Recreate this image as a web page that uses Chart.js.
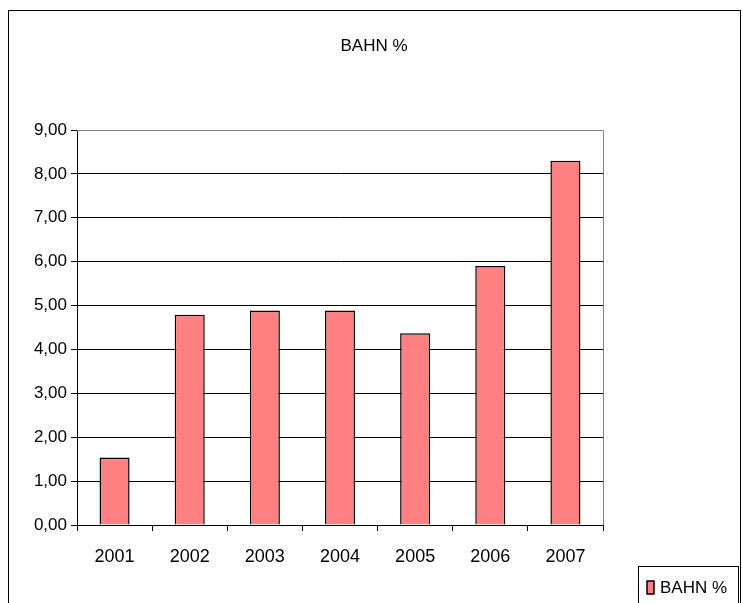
<!DOCTYPE html>
<html>
<head>
<meta charset="utf-8">
<script src="https://cdn.jsdelivr.net/npm/chart.js@4/dist/chart.umd.min.js"></script>
<style>
  html, body { margin: 0; padding: 0; background: #fff; }
  #wrap { position: relative; width: 743px; height: 603px; }
</style>
</head>
<body>
<div id="wrap"><canvas id="bahnChart"></canvas></div>
<script>
// --- datos ---
const years = ['2001', '2002', '2003', '2004', '2005', '2006', '2007'];
const bahnValues = [1.54, 4.79, 4.89, 4.89, 4.37, 5.90, 8.30];
const yTicks = [0, 1, 2, 3, 4, 5, 6, 7, 8, 9];
const seriesName = 'BAHN %';
const chartTitle = 'BAHN %';

const fontFam = "'Liberation Sans Narrow', 'Arial Narrow', 'Liberation Sans', Arial, sans-serif";

// marco, titulo y leyenda dibujados a mano
const extras = {
    id: 'extras',
    afterDraw(chart) {
        const ctx = chart.ctx;
        const a = chart.chartArea;
        ctx.save();
        // borde exterior
        ctx.strokeStyle = '#000';
        ctx.lineWidth = 1;
        ctx.strokeRect(8.5, 10.5, 732, 620);
        // borde gris del area de trazado (arriba y derecha)
        ctx.strokeStyle = '#808080';
        ctx.beginPath();
        ctx.moveTo(a.left, a.top + 0.5);
        ctx.lineTo(a.right + 0.5, a.top + 0.5);
        ctx.lineTo(a.right + 0.5, a.bottom);
        ctx.stroke();
        // titulo
        ctx.fillStyle = '#000';
        ctx.font = '17px ' + fontFam;
        ctx.textAlign = 'center';
        ctx.textBaseline = 'middle';
        ctx.fillText(chartTitle, 374, 46);
        // leyenda
        ctx.strokeStyle = '#000';
        ctx.strokeRect(638.5, 566.5, 100, 44);
        const ds = chart.data.datasets[0];
        ctx.fillStyle = ds.backgroundColor;
        ctx.fillRect(647, 581, 7, 13);
        ctx.lineWidth = 1.5;
        ctx.strokeRect(647, 581, 7, 13);
        ctx.fillStyle = '#000';
        ctx.textAlign = 'left';
        ctx.fillText(ds.label, 660, 588);
        ctx.restore();
    }
};

new Chart(document.getElementById('bahnChart'), {
    type: 'bar',
    data: {
        labels: years,
        datasets: [{
            label: seriesName,
            data: bahnValues,
            backgroundColor: '#FF8080',
            borderColor: '#000',
            borderWidth: 1.5,
            barPercentage: 0.4,
            categoryPercentage: 1.0
        }]
    },
    options: {
        responsive: true,
        maintainAspectRatio: false,
        animation: false,
        layout: { padding: { left: 0, top: 130, right: 140, bottom: 0 } },
        plugins: {
            legend: { display: false },
            title: { display: false },
            tooltip: { enabled: false }
        },
        scales: {
            x: {
                grid: { offset: true, drawOnChartArea: false, color: '#000', tickLength: 6 },
                border: { color: '#000', width: 1 },
                ticks: { color: '#000', font: { family: fontFam, size: 18 }, padding: 15, maxRotation: 0 },
                afterFit: s => { s.height = 78; }
            },
            y: {
                min: 0,
                max: 9,
                afterBuildTicks: s => { s.ticks = yTicks.map(v => ({ value: v })); },
                grid: { color: '#000', tickLength: 6 },
                border: { color: '#000', width: 1 },
                ticks: {
                    color: '#000',
                    font: { family: fontFam, size: 17 },
                    padding: 4,
                    callback: v => v.toFixed(2).replace('.', ',')
                },
                afterFit: s => { s.width = 77; }
            }
        }
    },
    plugins: [extras]
});
</script>
</body>
</html>
